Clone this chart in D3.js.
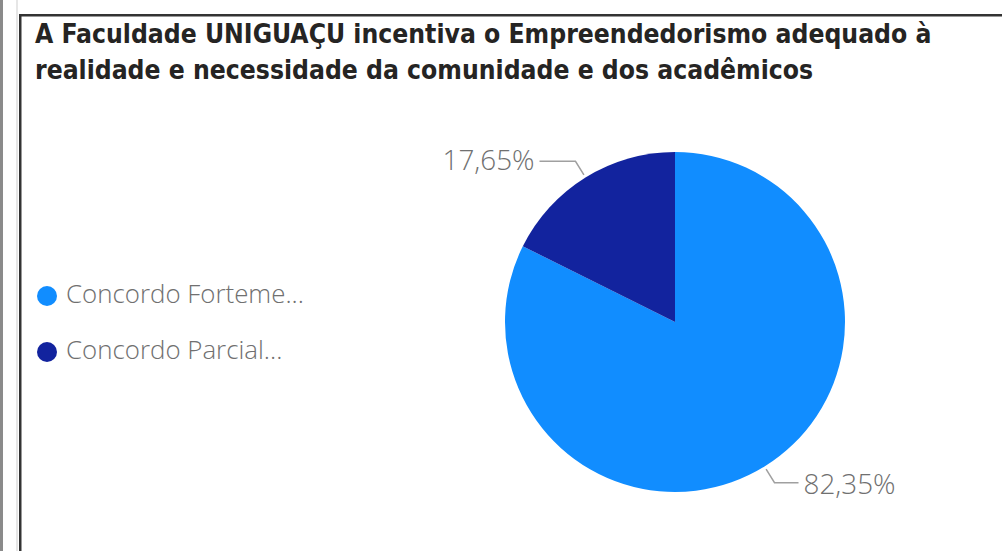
<!DOCTYPE html>
<html><head><meta charset="utf-8">
<script src="https://cdn.jsdelivr.net/npm/d3@7"></script>
<style>html,body{margin:0;padding:0;background:#fff;overflow:hidden}</style>
</head><body>
<svg id="c" width="1002" height="551"></svg>
<script>
const titleLines = ["A Faculdade UNIGUAÇU incentiva o Empreendedorismo adequado à", "realidade e necessidade da comunidade e dos acadêmicos"];
const categories = ["Concordo Fortemente", "Concordo Parcialmente"];
const legendLabels = ["Concordo Forteme...", "Concordo Parcial..."];
const values = [82.35, 17.65];
const valueLabels = ["82,35%", "17,65%"];
const colors = ["#118DFF", "#12239E"];

const svg = d3.select("#c");
// frame
svg.append("rect").attr("x",0).attr("y",0).attr("width",3).attr("height",551).attr("fill","#8a8a8a");
svg.append("rect").attr("x",16).attr("y",0).attr("width",2).attr("height",551).attr("fill","#e6e6e6");
svg.append("rect").attr("x",19).attr("y",14).attr("width",2.5).attr("height",537).attr("fill","#333");
svg.append("rect").attr("x",19).attr("y",14).attr("width",983).attr("height",2.5).attr("fill","#333");

function fit(sel, target){
  const w = sel.node().getComputedTextLength();
  const fs = parseFloat(sel.attr("font-size"));
  sel.attr("font-size", fs*target/w);
}

const titleFont = "'DejaVu Sans Condensed', 'DejaVu Sans', sans-serif";
const t1 = svg.append("text").attr("x",35).attr("y",43).attr("font-family",titleFont).attr("font-weight","bold")
  .attr("font-size",20).attr("fill","#252423").text(titleLines[0]);
fit(t1, 897);
const t2 = svg.append("text").attr("x",35).attr("y",79).attr("font-family",titleFont).attr("font-weight","bold")
  .attr("font-size",t1.attr("font-size")).attr("fill","#252423").text(titleLines[1]);

// legend
const legY = d3.scalePoint().domain(categories).range([296, 352]);
const lg = svg.append("g");
categories.forEach((c,i)=>{
  lg.append("circle").attr("cx",47).attr("cy",legY(c)).attr("r",10).attr("fill",colors[i]);
  const t = lg.append("text").attr("x",66).attr("y",legY(c)+7).attr("font-family","'Open Sans', sans-serif")
    .attr("font-weight",300).attr("font-size",20).attr("fill","#707070").text(legendLabels[i]);
  if(i===0) fit(t, 238);
  else t.attr("font-size", lg.select("text").attr("font-size"));
});

// pie
const cx = 675, cy = 322, R = 170;
const pie = d3.pie().sort(null).value(d=>d);
const arcs = pie(values);
const arc = d3.arc().innerRadius(0).outerRadius(R);
const g = svg.append("g").attr("transform",`translate(${cx},${cy})`);
g.selectAll("path").data(arcs).join("path").attr("d",arc).attr("fill",(d,i)=>colors[i]);

const inner = d3.arc().innerRadius(R+3).outerRadius(R+3);
const elbow = d3.arc().innerRadius(R+19).outerRadius(R+19);
let labelFs = null;
arcs.forEach((d,i)=>{
  const p0 = inner.centroid(d), p1 = elbow.centroid(d);
  const right = p1[0] > 0;
  const p2 = [p1[0] + (right ? 24 : -36), p1[1]];
  g.append("polyline").attr("points",[p0,p1,p2].map(p=>p.join(",")).join(" "))
    .attr("fill","none").attr("stroke","#a0a0a0").attr("stroke-width",1.5);
  const t = g.append("text").attr("x",p2[0] + (right?5:-5)).attr("y",p2[1]+(right?11:9))
    .attr("text-anchor", right?"start":"end").attr("font-family","'Open Sans', sans-serif")
    .attr("font-weight",300).attr("font-size",20).attr("fill","#707070").text(valueLabels[i]);
  if(labelFs === null){ fit(t, 92); labelFs = t.attr("font-size"); }
  else t.attr("font-size", labelFs);
});
</script>
</body></html>
